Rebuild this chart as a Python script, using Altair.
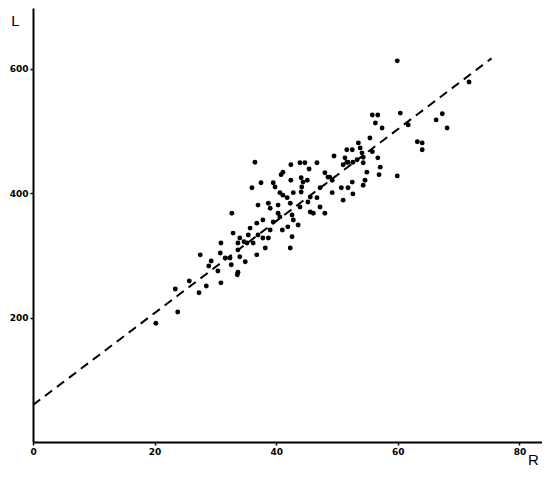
import altair as alt
import pandas as pd

# Scatter points: R (x) and L (y)
R = [20.2, 23.8, 23.4, 25.7, 27.3, 28.5, 30.9, 27.5, 29.3, 28.9,
     30.4, 30.9, 30.8, 31.6, 32.4, 32.6, 33.6, 33.7, 34.0, 34.9,
     36.8, 32.9, 34.0, 34.7, 35.4, 35.2, 33.7, 36.2, 37.0, 37.8,
     38.7, 38.2, 39.0, 32.7, 35.7, 33.7, 36.5, 42.4, 43.9, 44.7,
     46.7, 49.5, 51.6, 45.4, 41.1, 40.8, 42.4, 37.5, 36.0, 39.5,
     39.8, 44.1, 44.4, 45.1, 48.0, 48.5, 49.2, 44.2, 47.2, 40.6,
     41.1, 42.8, 44.1, 41.8, 45.6, 45.2, 46.7, 50.7, 51.0, 37.0,
     38.7, 39.0, 40.3, 42.3, 43.9, 45.6, 46.1, 47.2, 48.0, 40.3,
     40.6, 42.6, 42.8, 37.8, 36.8, 39.5, 41.0, 41.9, 43.6, 42.6,
     42.3, 55.8, 56.7, 56.3, 60.4, 61.7, 63.2, 64.0, 64.0, 55.4,
     57.4, 53.5, 53.8, 54.1, 54.3, 55.8, 51.6, 52.5, 51.3, 51.8,
     52.6, 53.3, 56.7, 57.1, 54.3, 54.9, 56.9, 59.9, 54.6, 54.3,
     52.5, 51.8, 52.6, 49.2, 48.8, 59.9, 71.7, 66.3, 67.3, 68.1,
     51.0]
L = [191, 209, 246, 259, 240, 251, 256, 301, 291, 283,
     275, 320, 304, 296, 296, 285, 269, 273, 298, 290,
     301, 336, 328, 322, 333, 320, 320, 320, 333, 328,
     328, 312, 341, 368, 344, 309, 450, 446, 449, 449,
     449, 460, 450, 439, 434, 430, 421, 417, 409, 417,
     410, 425, 418, 421, 433, 426, 421, 410, 409, 401,
     397, 401, 402, 393, 394, 386, 393, 409, 389, 381,
     384, 376, 381, 384, 378, 370, 368, 378, 368, 368,
     362, 365, 357, 357, 352, 354, 341, 346, 349, 330,
     312, 526, 526, 513, 529, 510, 483, 481, 470, 489,
     505, 481, 473, 465, 458, 467, 470, 470, 457, 450,
     450, 454, 457, 442, 449, 434, 430, 428, 421, 413,
     418, 409, 399, 401, 426, 613, 579, 518, 528, 505,
     446]

# Fitted dashed line endpoints
line_R = [0, 75.4]
line_L = [59.5, 617]

x_ticks = [0, 20, 40, 60, 80]
y_ticks = [200, 400, 600]

pts = pd.DataFrame({"R": R, "L": L})
ln = pd.DataFrame({"R": line_R, "L": line_L})

xs = alt.Scale(domain=[0, 83.7], nice=False, zero=False)
ys = alt.Scale(domain=[0, 698], nice=False, zero=False)

x_axis = alt.Axis(values=x_ticks, title="R", titleAngle=0, titleX=500, titleY=22,
                  titleAlign="center", titleBaseline="alphabetic", labelFlush=False,
                  grid=False)
y_axis = alt.Axis(values=y_ticks, title="L", titleAngle=0, titleX=-18, titleY=12,
                  titleAlign="center", titleBaseline="middle", labelFlush=False,
                  grid=False)

line = alt.Chart(ln).mark_line(color="black", strokeWidth=2, strokeDash=[9, 6]).encode(
    x=alt.X("R:Q", scale=xs, axis=x_axis),
    y=alt.Y("L:Q", scale=ys, axis=y_axis),
)
points = alt.Chart(pts).mark_circle(color="black", size=24, opacity=1).encode(
    x=alt.X("R:Q", scale=xs),
    y=alt.Y("L:Q", scale=ys),
)

chart = (line + points).properties(
    width=509, height=434,
    autosize="none",
    padding={"left": 25, "top": 0, "right": 0, "bottom": 27},
).configure_view(stroke=None).configure_axis(
    domainColor="black", domainWidth=2, tickColor="black", tickWidth=1.5,
    tickSize=3, labelPadding=2, labelFont="DejaVu Sans", labelFontWeight="bold",
    labelFontSize=9, labelColor="black", titleFont="Liberation Sans",
    titleFontSize=15, titleFontWeight="normal", titleColor="black",
    labelOverlap=False,
)

chart.save("out.html", embed_options={"renderer": "svg", "actions": False})
